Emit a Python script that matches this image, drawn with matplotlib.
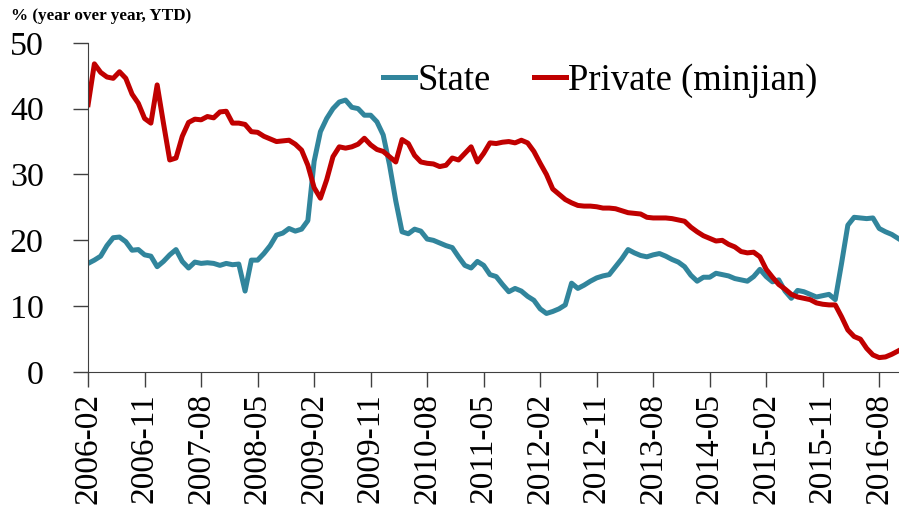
import numpy as np
import pandas as pd
import matplotlib
matplotlib.use('Agg')
import matplotlib.pyplot as plt

plt.rcParams['font.family'] = ['Liberation Serif', 'DejaVu Serif']

# monthly, 2006-02 .. 2016-11
months = pd.period_range('2006-02', periods=130, freq='M').strftime('%Y-%m').tolist()

state = [16.5, 17.0, 17.6, 19.2, 20.4, 20.5, 19.8, 18.5, 18.6, 17.8,
         17.6, 16.0, 16.8, 17.8, 18.6, 16.8, 15.8, 16.7, 16.5, 16.6,
         16.5, 16.2, 16.5, 16.3, 16.4, 12.3, 17.0, 17.0, 18.0, 19.2,
         20.8, 21.1, 21.8, 21.4, 21.7, 23.0, 32.0, 36.5, 38.5, 40.0,
         41.0, 41.3, 40.2, 40.0, 39.0, 39.0, 38.0, 36.0, 31.5, 26.0,
         21.3, 21.0, 21.7, 21.4, 20.2, 20.0, 19.6, 19.2, 18.9, 17.5,
         16.2, 15.8, 16.8, 16.2, 14.8, 14.5, 13.3, 12.2, 12.7, 12.3,
         11.5, 10.9, 9.6, 8.9, 9.2, 9.6, 10.2, 13.5, 12.7, 13.2,
         13.8, 14.3, 14.6, 14.8, 16.0, 17.2, 18.6, 18.1, 17.7, 17.5,
         17.8, 18.0, 17.6, 17.1, 16.7, 16.0, 14.7, 13.8, 14.4, 14.4,
         15.0, 14.8, 14.6, 14.2, 14.0, 13.8, 14.5, 15.6, 14.5, 13.7,
         14.0, 12.3, 11.2, 12.4, 12.2, 11.8, 11.4, 11.6, 11.8, 11.0,
         16.5, 22.3, 23.5, 23.4, 23.3, 23.4, 21.8, 21.3, 20.9, 20.3]

private = [40.6, 46.8, 45.5, 44.8, 44.6, 45.6, 44.6, 42.2, 40.8, 38.5,
           37.8, 43.6, 37.8, 32.2, 32.5, 35.8, 37.9, 38.4, 38.3, 38.8,
           38.6, 39.5, 39.6, 37.8, 37.8, 37.6, 36.5, 36.4, 35.8, 35.4,
           35.0, 35.1, 35.2, 34.6, 33.7, 31.4, 28.0, 26.4, 29.2, 32.7,
           34.2, 34.0, 34.2, 34.6, 35.5, 34.5, 33.8, 33.5, 32.7, 31.9,
           35.3, 34.7, 32.9, 31.9, 31.7, 31.6, 31.2, 31.4, 32.5, 32.2,
           33.2, 34.2, 31.9, 33.2, 34.8, 34.7, 34.9, 35.0, 34.8, 35.2,
           34.8, 33.5, 31.7, 30.0, 27.8, 27.0, 26.2, 25.7, 25.3, 25.2,
           25.2, 25.1, 24.9, 24.9, 24.8, 24.5, 24.2, 24.1, 24.0, 23.5,
           23.4, 23.4, 23.4, 23.3, 23.1, 22.9, 22.0, 21.3, 20.7, 20.3,
           19.9, 20.0, 19.4, 19.0, 18.3, 18.1, 18.2, 17.5, 15.6, 14.4,
           13.3, 12.6, 11.8, 11.4, 11.2, 11.0, 10.5, 10.3, 10.2, 10.2,
           8.4, 6.4, 5.4, 5.0, 3.6, 2.6, 2.2, 2.3, 2.7, 3.2]

x = np.arange(len(months))

fig = plt.figure(figsize=(8.99, 5.09), dpi=100)
ax = fig.add_axes([0.098, 0.269, 0.902, 0.647])

ax.plot(x, state, color='#31859C', lw=3.6, label='State', solid_joinstyle='round')
ax.plot(x, private, color='#C00000', lw=3.6, label='Private (minjian)', solid_joinstyle='round')

ax.set_xlim(0, len(months) - 0.85)
ax.set_ylim(0, 50)
ax.set_yticks(range(0, 51, 10))
ax.set_xticks(x[::9])
ax.set_xticklabels(months[::9], rotation=90, fontsize=24)
ax.tick_params(axis='y', labelsize=24.5, length=11, width=1, color='#404040', pad=21)
ax.tick_params(axis='x', length=11, width=1, color='#404040', pad=4)

for side in ['top', 'right']:
    ax.spines[side].set_visible(False)
ax.spines['left'].set_color('#404040')
ax.spines['bottom'].set_color('#404040')

ax.legend(loc='center left', bbox_to_anchor=(0.364, 0.884), ncol=2, frameon=False,
          fontsize=26.4, handlelength=0.87, handletextpad=0.05, columnspacing=1.2,
          borderpad=0, borderaxespad=0)

fig.text(0.012, 0.9676, '% (year over year, YTD)', fontsize=12.3, fontweight='bold',
         va='center', ha='left')

fig.savefig('out.png', dpi=100)
